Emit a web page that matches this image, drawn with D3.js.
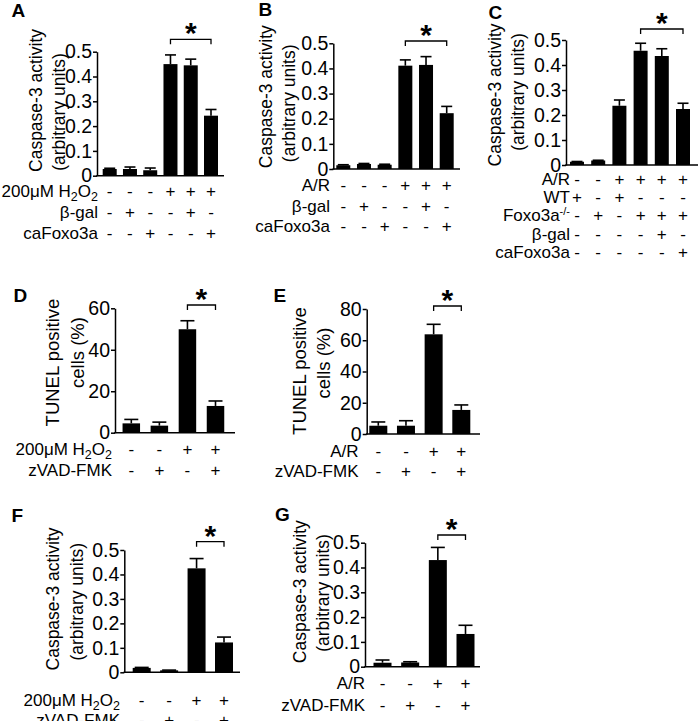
<!DOCTYPE html>
<html>
<head>
<meta charset="utf-8">
<script src="https://cdn.jsdelivr.net/npm/d3@7"></script>
<style>
  body { margin: 0; background: #fff; }
  text { font-family: "Liberation Sans", Arial, sans-serif; fill: #000; }
</style>
</head>
<body>
<svg id="fig"></svg>
<script>
const width = 700;
const height = 721;

// ---------------- data ----------------
// A: Caspase-3, 200uM H2O2
const meanA = [0.027, 0.027, 0.022, 0.45, 0.445, 0.242];
const semA  = [0.003, 0.008, 0.009, 0.037, 0.025, 0.025];
// B: Caspase-3, A/R
const meanB = [0.015, 0.02, 0.017, 0.411, 0.414, 0.222];
const semB  = [0.002, 0.002, 0.002, 0.023, 0.033, 0.027];
// C: Caspase-3, A/R, WT vs Foxo3a-/-
const meanC = [0.013, 0.018, 0.237, 0.457, 0.436, 0.224];
const semC  = [0.001, 0.001, 0.023, 0.030, 0.029, 0.023];
// D: TUNEL, 200uM H2O2
const meanD = [4.5, 3.4, 49.9, 12.9];
const semD  = [1.9, 1.7, 4.1, 2.4];
// E: TUNEL, A/R
const meanE = [5.3, 5.3, 63.8, 15.4];
const semE  = [2.4, 3.2, 6.4, 3.2];
// F: Caspase-3, 200uM H2O2 + zVAD
const meanF = [0.018, 0.008, 0.425, 0.122];
const semF  = [0.002, 0.001, 0.040, 0.022];
// G: Caspase-3, A/R + zVAD
const meanG = [0.016, 0.017, 0.43, 0.132];
const semG  = [0.011, 0.003, 0.051, 0.035];

const caspaseTicks = [0, 0.1, 0.2, 0.3, 0.4, 0.5];
const tunelTicksD = [0, 20, 40, 60];
const tunelTicksE = [0, 20, 40, 60, 80];

// row labels, as [text, shift] pieces
const lblH2O2 = [["200μM H", ""], ["2", "sub"], ["O", ""], ["2", "sub"]];
const lblAR = [["A/R", ""]];
const lblGal = [["β-gal", ""]];
const lblCa = [["caFoxo3a", ""]];
const lblWT = [["WT", ""]];
const lblKO = [["Foxo3a", ""], ["-/-", "super"]];
const lblZ = [["zVAD-FMK", ""]];

// +/- tables
const signsA = ["---+++", "-+--+-", "--+--+"];
const signsB = ["---+++", "-+--+-", "--+--+"];
const signsC = ["--++++", "+-+---", "-+-+++", "----+-", "-----+"];
const signsD = ["--++", "-+-+"];
const signsE = ["--++", "-+-+"];

const titleCasp = ["Caspase-3 activity", "(arbitrary units)"];
const titleTunel = ["TUNEL positive", "cells (%)"];

let svg = d3.select('#fig')
        .attr('width', width)
        .attr('height', height);

function drawPanel(p) {
        let g = svg.append("g");

        let y = d3.scaleLinear().domain([0, p.max]).range([p.y0, p.y1]);
        let x = d3.scaleLinear().domain([0, p.mean.length - 1]).range([p.xFirst, p.xLast]);

        // y axis
        let yAxis = d3.axisLeft(y).tickValues(p.ticks).tickSize(4).tickSizeOuter(0)
                .tickPadding(1).tickFormat(d3.format(p.fmt));
        let ya = g.append("g").attr("transform", "translate(" + p.ax + ",0)").call(yAxis);
        ya.selectAll("path, line").attr("stroke", "#000").attr("stroke-width", 1.5);
        ya.selectAll("text").style("font-size", "19.5px").style("font-family", "Liberation Sans, Arial");

        // x axis line
        g.append("line")
                .attr("x1", p.ax - 0.75).attr("x2", p.axEnd)
                .attr("y1", p.y0).attr("y2", p.y0)
                .attr("stroke", "#000").attr("stroke-width", 1.5);

        // error bars (upper only)
        p.mean.forEach((m, i) => {
                let cx = x(i);
                g.append("line")
                        .attr("x1", cx).attr("x2", cx)
                        .attr("y1", y(m)).attr("y2", y(m + p.sem[i]))
                        .attr("stroke", "#000").attr("stroke-width", 1.6);
                g.append("line")
                        .attr("x1", cx - p.cap / 2).attr("x2", cx + p.cap / 2)
                        .attr("y1", y(m + p.sem[i])).attr("y2", y(m + p.sem[i]))
                        .attr("stroke", "#000").attr("stroke-width", 1.6);
        });

        // bars
        g.selectAll(".bar").data(p.mean).enter().append("rect")
                .attr("x", (d, i) => x(i) - p.bw / 2)
                .attr("y", d => y(d))
                .attr("width", p.bw)
                .attr("height", d => p.y0 - y(d))
                .attr("fill", "#000");

        // significance bracket
        let bx1 = x(p.br[0]), bx2 = x(p.br[1]);
        g.append("path")
                .attr("d", "M" + bx1 + "," + (p.brY + 5) + "V" + p.brY + "H" + bx2 + "V" + (p.brY + 5))
                .attr("fill", "none").attr("stroke", "#000").attr("stroke-width", 1.3);
        g.append("text")
                .attr("x", (bx1 + bx2) / 2).attr("y", p.brY + 4)
                .attr("text-anchor", "middle")
                .style("font-size", "30px").style("font-weight", "bold")
                .text("*");

        // y titles (rotated)
        p.title.forEach((t, k) => {
                g.append("text")
                        .attr("transform", "translate(" + p.tx[k] + "," + p.ty[k] + ") rotate(-90)")
                        .attr("text-anchor", "middle")
                        .style("font-size", p.tfs + "px")
                        .text(t);
        });

        // panel letter
        g.append("text")
                .attr("x", p.letter[1]).attr("y", p.letter[2])
                .style("font-size", "19px").style("font-weight", "bold")
                .text(p.letter[0]);

        // treatment table
        p.rows.forEach((lbl, r) => {
                let ty = p.rowY[r];
                let t = g.append("text")
                        .attr("x", p.lblX).attr("y", ty)
                        .attr("text-anchor", "end")
                        .style("font-size", "17px");
                let shift = 0;
                lbl.forEach(seg => {
                        let target = seg[1] === "sub" ? 4 : (seg[1] === "super" ? -6 : 0);
                        let s = t.append("tspan").text(seg[0]).attr("dy", target - shift);
                        if (seg[1] === "sub") s.style("font-size", "12.5px");
                        if (seg[1] === "super") s.style("font-size", "11px");
                        shift = target;
                });
                p.signs[r].split("").forEach((c, i) => {
                        g.append("text")
                                .attr("x", x(i)).attr("y", ty)
                                .attr("text-anchor", "middle")
                                .style("font-size", "17px")
                                .text(c);
                });
        });
}

drawPanel({
        mean: meanA, sem: semA, max: 0.5, ticks: caspaseTicks, fmt: "~g",
        ax: 97, axEnd: 224, y0: 175.7, y1: 51.7, xFirst: 109.7, xLast: 211, bw: 14, cap: 11,
        br: [3, 5], brY: 39.3,
        title: titleCasp, tx: [42, 65], ty: [100.5, 112], tfs: 17.5,
        letter: ["A", 11.5, 17],
        rows: [lblH2O2, lblGal, lblCa], signs: signsA, rowY: [196.5, 217.5, 238.5], lblX: 98
});
drawPanel({
        mean: meanB, sem: semB, max: 0.5, ticks: caspaseTicks, fmt: "~g",
        ax: 333.3, axEnd: 460, y0: 169, y1: 43.3, xFirst: 343.3, xLast: 446.7, bw: 14, cap: 11,
        br: [3, 5], brY: 41,
        title: titleCasp, tx: [272, 295], ty: [96.7, 103.3], tfs: 17.5,
        letter: ["B", 258.5, 15.5],
        rows: [lblAR, lblGal, lblCa], signs: signsB, rowY: [191, 211.5, 232], lblX: 330
});
drawPanel({
        mean: meanC, sem: semC, max: 0.5, ticks: caspaseTicks, fmt: "~g",
        ax: 566, axEnd: 698, y0: 165, y1: 40, xFirst: 577, xLast: 683, bw: 14, cap: 11,
        br: [3, 5], brY: 29,
        title: titleCasp, tx: [500.5, 524], ty: [95, 92], tfs: 17.5,
        letter: ["C", 488.5, 18.5],
        rows: [lblAR, lblWT, lblKO, lblGal, lblCa], signs: signsC, rowY: [185, 203, 221, 239.5, 258], lblX: 570
});
drawPanel({
        mean: meanD, sem: semD, max: 60, ticks: tunelTicksD, fmt: "d",
        ax: 115, axEnd: 235, y0: 432.7, y1: 308.3, xFirst: 131.3, xLast: 215.5, bw: 17.5, cap: 14,
        br: [2, 3], brY: 305,
        title: titleTunel, tx: [59, 84], ty: [362.5, 352.5], tfs: 18.5,
        letter: ["D", 13.5, 302],
        rows: [lblH2O2, lblZ], signs: signsD, rowY: [455, 475.5], lblX: 112
});
drawPanel({
        mean: meanE, sem: semE, max: 80, ticks: tunelTicksE, fmt: "d",
        ax: 366.7, axEnd: 480, y0: 434, y1: 309, xFirst: 378.3, xLast: 461.3, bw: 18, cap: 14,
        br: [2, 3], brY: 306,
        title: titleTunel, tx: [305.5, 330], ty: [371, 363], tfs: 18.5,
        letter: ["E", 273.5, 302],
        rows: [lblAR, lblZ], signs: signsE, rowY: [456.5, 477], lblX: 358.5
});
drawPanel({
        mean: meanF, sem: semF, max: 0.5, ticks: caspaseTicks, fmt: "~g",
        ax: 124.3, axEnd: 240, y0: 672.3, y1: 550, xFirst: 141.7, xLast: 224, bw: 18, cap: 14,
        br: [2, 3], brY: 541.7,
        title: titleCasp, tx: [59, 82.5], ty: [599, 601.7], tfs: 17.5,
        letter: ["F", 11.5, 522],
        rows: [lblH2O2, lblZ], signs: signsD, rowY: [705.5, 725.5], lblX: 120
});
drawPanel({
        mean: meanG, sem: semG, max: 0.5, ticks: caspaseTicks, fmt: "~g",
        ax: 365, axEnd: 480, y0: 666.7, y1: 542.7, xFirst: 382.5, xLast: 465.5, bw: 18, cap: 14,
        br: [2, 3], brY: 535,
        title: titleCasp, tx: [305.5, 329], ty: [591.7, 593], tfs: 17.5,
        letter: ["G", 275, 520.5],
        rows: [lblAR, lblZ], signs: signsE, rowY: [689, 710.5], lblX: 365
});
</script>
</body>
</html>
